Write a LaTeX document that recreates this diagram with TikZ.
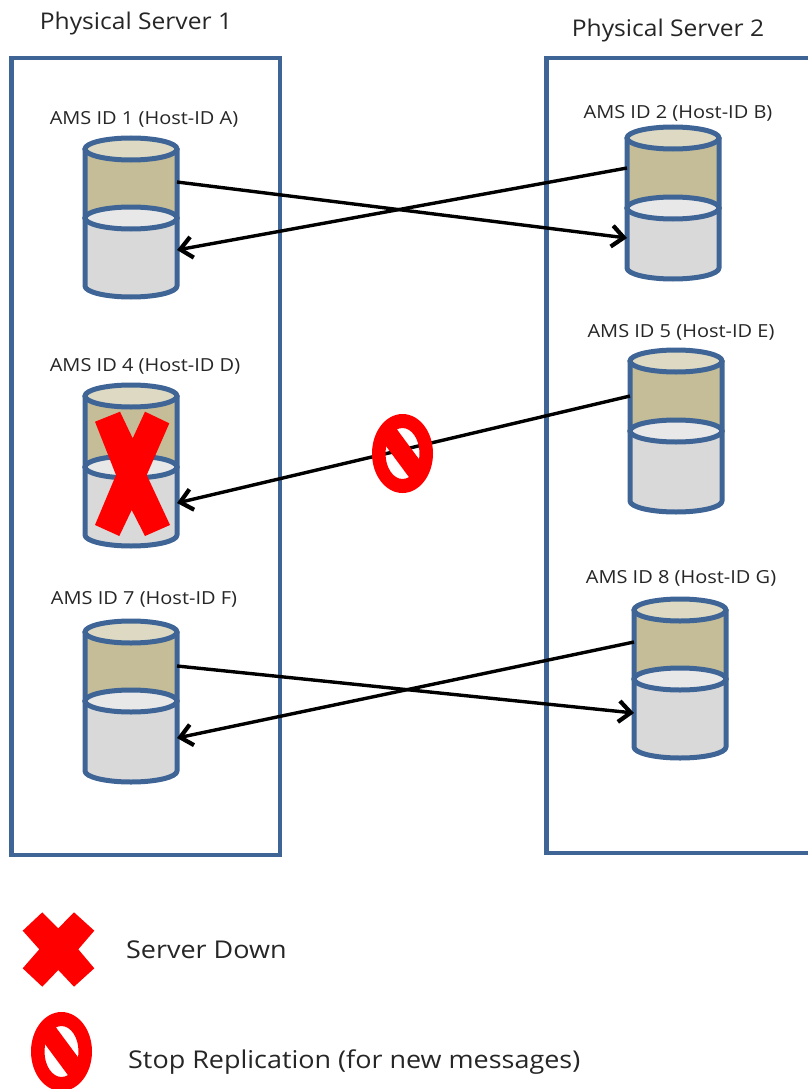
\documentclass[tikz,border=0pt]{standalone}
\usepackage{fontspec}
\setmainfont{Open Sans}
\newfontfamily\idfont[FakeStretch=1.11]{Open Sans}
\newfontfamily\srvfont[FakeStretch=1.07]{Open Sans}
\newfontfamily\legfont[FakeStretch=1.10]{Open Sans}
\usetikzlibrary{arrows.meta}
\definecolor{boxblue}{HTML}{3F6597}
\definecolor{tanbody}{HTML}{C4BD97}
\definecolor{tantop}{HTML}{DDD9C3}
\definecolor{greybody}{HTML}{D9D9D9}
\definecolor{greytop}{HTML}{E8E8E8}
\definecolor{inktext}{HTML}{262626}
\tikzset{
  x=1pt,y=-1pt,
  serverbox/.style={draw=boxblue,line width=4.4pt,fill=none},
  cylline/.style={draw=boxblue,line width=5pt},
  idlabel/.style={inner sep=0pt,text=inktext,font=\idfont\fontsize{18}{20}\selectfont},
  srvlabel/.style={inner sep=0pt,text=inktext,font=\srvfont\fontsize{23}{28}\selectfont},
  leglabel/.style={inner sep=0pt,anchor=west,text=inktext,font=\legfont\fontsize{24.5}{30}\selectfont},
  link/.style={draw=black,line width=3.4pt,-{Straight Barb[length=12pt,width=21pt,line width=4.2pt]}},
  downmark/.style={fill=red,draw=none},
}
% #1 centre x, #2 top centre y, #3 middle centre y, #4 bottom centre y
\newcommand{\drumshape}[4]{%
  \path[cylline,fill=tanbody,line join=round]
    (#1-46,#2) -- (#1-46,#3) arc[start angle=180,end angle=360,x radius=46pt,y radius=11pt]
    -- (#1+46,#2) -- cycle;
  \path[cylline,fill=greybody,line join=round]
    (#1-46,#3) -- (#1-46,#4) arc[start angle=180,end angle=360,x radius=46pt,y radius=11pt]
    -- (#1+46,#3) -- cycle;
  \path[cylline,fill=tantop] (#1,#2) ellipse[x radius=46pt,y radius=11pt];
  \path[cylline,fill=greytop] (#1,#3) ellipse[x radius=46pt,y radius=11pt];
}
% no-entry sign: centre x, y
\newcommand{\stopsign}[2]{%
  \path[fill=red,even odd rule] (#1,#2) ellipse[x radius=30.5pt,y radius=39.5pt]
    (#1,#2) ellipse[x radius=17pt,y radius=25.5pt];
  \begin{scope}
    \clip (#1,#2) ellipse[x radius=18pt,y radius=26.5pt];
    \fill[red] (#1-24,#2-49) -- (#1+36,#2+32) -- (#1+26,#2+50) -- (#1-34,#2-31) -- cycle;
  \end{scope}
}
\begin{document}
\begin{tikzpicture}
\clip (0,0) rectangle (808,1089);
\fill[white] (0,0) rectangle (808,1089);

\node[srvlabel] (ps1) at (136,24) {Physical Server 1};
\node[srvlabel] (ps2) at (668,31) {Physical Server 2};

\draw[serverbox] (11.5,58) rectangle (280,855);
\draw[serverbox] (546.5,58) rectangle (820,853);

\node[idlabel] (l1) at (144,119) {AMS ID 1 (Host-ID A)};
\node[idlabel] (l2) at (678,113) {AMS ID 2 (Host-ID B)};
\node[idlabel] (l4) at (145,366) {AMS ID 4 (Host-ID D)};
\node[idlabel] (l5) at (681,332) {AMS ID 5 (Host-ID E)};
\node[idlabel] (l7) at (144,599) {AMS ID 7 (Host-ID F)};
\node[idlabel] (l8) at (681,578) {AMS ID 8 (Host-ID G)};

\drumshape{131}{149}{218}{286}
\drumshape{673}{138}{208}{268}
\drumshape{131}{396}{467}{535}
\drumshape{676}{361}{431}{501}
\drumshape{131}{632}{701}{771}
\drumshape{680}{610}{679}{747}

\coordinate (a1out) at (177,182);
\coordinate (a2in) at (627,238);
\coordinate (a2out) at (627,168);
\coordinate (a1in) at (177,250);
\coordinate (a5out) at (630,396);
\coordinate (a4in) at (177,503);
\coordinate (a7out) at (177,666);
\coordinate (a8in) at (634,713);
\coordinate (a8out) at (634,642);
\coordinate (a7in) at (177,738);

\draw[link] (a1out) -- (a2in);
\draw[link] (a2out) -- (a1in);
\draw[link] (a5out) -- (a4in);
\draw[link] (a7out) -- (a8in);
\draw[link] (a8out) -- (a7in);

\fill[downmark] (95,421.7) -- (120,411.7) -- (132.7,438.3) -- (145,411.7) -- (169.3,423.3)
  -- (146.7,475) -- (170,525) -- (145,536) -- (131.7,510) -- (119.3,536) -- (95,525) -- (116,475) -- cycle;

\stopsign{402.5}{453.5}

\fill[downmark] (22.7,930.7) -- (42.3,912.3) -- (58.3,928.3) -- (74,912.3) -- (94.3,930.7) -- (78.3,949.3)
  -- (94.3,968.3) -- (74,986.7) -- (58.3,970) -- (42.3,986.7) -- (22.7,968.3) -- (39.3,949.3) -- cycle;
\node[leglabel] (leg1) at (126,950) {Server Down};

\stopsign{61.5}{1051.5}
\node[leglabel] (leg2) at (128,1062) {Stop Replication (for new messages)};
\end{tikzpicture}
\end{document}
